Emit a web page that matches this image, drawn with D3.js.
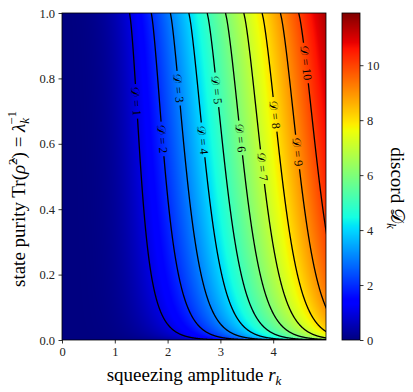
<!DOCTYPE html>
<html>
<head>
<meta charset="utf-8">
<script src="https://cdn.jsdelivr.net/npm/d3@7"></script>
<style>
body { margin: 0; background: #fff; }
svg text { font-family: "Liberation Serif", "DejaVu Serif", serif; }
</style>
</head>
<body>
<div id="chart"></div>
<script>
// axes ranges and ticks
const rDomain = [0, 5];
const purityDomain = [0, 1];
const xTicks = [0, 1, 2, 3, 4];
const yTicks = [0, 0.2, 0.4, 0.6, 0.8, 1.0];
const cbarTicks = [0, 2, 4, 6, 8, 10];
const cbarMax = 11.9;

// contour levels and the purity at which each inline label sits
const levels = [1, 2, 3, 4, 5, 6, 7, 8, 9, 10];
const labelPurity = [0.73, 0.615, 0.77, 0.612, 0.765, 0.618, 0.53, 0.69, 0.575, 0.847];

// discord of the decohered two-mode squeezed state
const squeezeScale = 5.2;

function fEnt(x) {
  if (x <= 1 + 1e-12) return 0;
  const a = (x + 1) / 2, b = (x - 1) / 2;
  return a * Math.log2(a) - b * Math.log2(b);
}
function discord(r, p) {
  p = Math.max(p, 1e-7);
  const nu = 1 / Math.sqrt(p);
  const s = Math.sinh(2 * r) / squeezeScale;
  const a = nu * Math.sqrt(1 + s * s);
  return fEnt(a) - 2 * fEnt(nu) + fEnt((a + nu * nu) / (a + 1));
}

const W = 413, H = 392;
const plot = { left: 62, right: 326, top: 13, bottom: 340 };
const cbar = { left: 342, right: 360 };

const x = d3.scaleLinear().domain(rDomain).range([plot.left, plot.right]);
const y = d3.scaleLinear().domain(purityDomain).range([plot.bottom, plot.top]);
const yc = d3.scaleLinear().domain([0, cbarMax]).range([plot.bottom, plot.top]);

// jet colormap
const jetR = d3.scaleLinear().domain([0, 0.35, 0.66, 0.89, 1]).range([0, 0, 1, 1, 0.5]).clamp(true);
const jetG = d3.scaleLinear().domain([0, 0.125, 0.375, 0.64, 0.91, 1]).range([0, 0, 1, 1, 0, 0]).clamp(true);
const jetB = d3.scaleLinear().domain([0, 0.11, 0.34, 0.65, 1]).range([0.5, 1, 1, 0, 0]).clamp(true);
const norm = d3.scaleLinear().domain([0, cbarMax]).range([0, 1]).clamp(true);
function jet(v) {
  const t = norm(v);
  return [jetR(t) * 255, jetG(t) * 255, jetB(t) * 255];
}

const svg = d3.select("#chart").append("svg")
  .attr("width", W)
  .attr("height", H);

// heatmap
const cw = plot.right - plot.left, ch = plot.bottom - plot.top;
const canvas = document.createElement("canvas");
canvas.width = cw; canvas.height = ch;
const ctx = canvas.getContext("2d");
const img = ctx.createImageData(cw, ch);
for (let j = 0; j < ch; j++) {
  const p = y.invert(plot.top + j + 0.5);
  for (let i = 0; i < cw; i++) {
    const r = x.invert(plot.left + i + 0.5);
    const c = jet(discord(r, p));
    const k = 4 * (j * cw + i);
    img.data[k] = c[0]; img.data[k + 1] = c[1]; img.data[k + 2] = c[2]; img.data[k + 3] = 255;
  }
}
ctx.putImageData(img, 0, 0);
svg.append("image")
  .attr("x", plot.left).attr("y", plot.top)
  .attr("width", cw).attr("height", ch)
  .attr("preserveAspectRatio", "none")
  .attr("href", canvas.toDataURL());

// contour lines
function solveR(level, p) {
  let lo = 0, hi = 12;
  if (discord(hi, p) < level) return null;
  for (let n = 0; n < 60; n++) {
    const mid = (lo + hi) / 2;
    if (discord(mid, p) < level) lo = mid; else hi = mid;
  }
  return (lo + hi) / 2;
}
const pSamples = d3.range(0, 901).map(i => Math.pow(10, -7 + 7 * i / 900));

svg.append("defs").append("clipPath").attr("id", "plotclip")
  .append("rect")
  .attr("x", plot.left).attr("y", plot.top)
  .attr("width", cw).attr("height", ch);

const mask = svg.select("defs").append("mask").attr("id", "lblmask")
  .attr("maskUnits", "userSpaceOnUse")
  .attr("x", 0).attr("y", 0).attr("width", W).attr("height", H);
mask.append("rect").attr("width", W).attr("height", H).attr("fill", "#fff");

const line = d3.line().x(d => x(d[0])).y(d => y(d[1]));
const contourG = svg.append("g").attr("clip-path", "url(#plotclip)");
const linesG = contourG.append("g").attr("mask", "url(#lblmask)");
const labelsG = svg.append("g");

levels.forEach((L, idx) => {
  const pts = [];
  pSamples.forEach(p => {
    const r = solveR(L, p);
    if (r !== null) pts.push([r, p]);
  });
  linesG.append("path")
    .attr("d", line(pts))
    .attr("fill", "none")
    .attr("stroke", "#000")
    .attr("stroke-width", 1.3);

  const pl = labelPurity[idx];
  const r0 = solveR(L, pl);
  const ra = solveR(L, pl + 0.01), rb = solveR(L, pl - 0.01);
  const ang = Math.atan2(y(pl - 0.01) - y(pl + 0.01), x(rb) - x(ra)) * 180 / Math.PI;
  const lx = x(r0), ly = y(pl);
  const t = labelsG.append("text")
    .attr("transform", `translate(${lx},${ly}) rotate(${ang})`)
    .attr("text-anchor", "middle")
    .attr("dy", "0.35em")
    .attr("font-size", 12);
  t.append("tspan").text("𝒟 = " + L);
  const len = t.node().getComputedTextLength();
  mask.append("rect")
    .attr("transform", `translate(${lx},${ly}) rotate(${ang})`)
    .attr("x", -len / 2 - 3).attr("y", -5)
    .attr("width", len + 6).attr("height", 10)
    .attr("fill", "#000");
});

// frame and axes
svg.append("rect")
  .attr("x", plot.left).attr("y", plot.top)
  .attr("width", cw).attr("height", ch)
  .attr("fill", "none").attr("stroke", "#000").attr("stroke-width", 0.8);

const xAxis = svg.append("g")
  .attr("transform", `translate(0,${plot.bottom})`)
  .call(d3.axisBottom(x).tickValues(xTicks).tickFormat(d3.format("d")).tickSize(3.5).tickPadding(3.5));
const yAxis = svg.append("g")
  .attr("transform", `translate(${plot.left},0)`)
  .call(d3.axisLeft(y).tickValues(yTicks).tickFormat(d3.format(".1f")).tickSize(3.5).tickPadding(3.5));

// colorbar
const cbCanvas = document.createElement("canvas");
cbCanvas.width = 1; cbCanvas.height = ch;
const cbCtx = cbCanvas.getContext("2d");
const cbImg = cbCtx.createImageData(1, ch);
for (let j = 0; j < ch; j++) {
  const c = jet(yc.invert(plot.top + j + 0.5));
  cbImg.data[4 * j] = c[0]; cbImg.data[4 * j + 1] = c[1]; cbImg.data[4 * j + 2] = c[2]; cbImg.data[4 * j + 3] = 255;
}
cbCtx.putImageData(cbImg, 0, 0);
svg.append("image")
  .attr("x", cbar.left).attr("y", plot.top)
  .attr("width", cbar.right - cbar.left).attr("height", ch)
  .attr("preserveAspectRatio", "none")
  .attr("href", cbCanvas.toDataURL());
svg.append("rect")
  .attr("x", cbar.left).attr("y", plot.top)
  .attr("width", cbar.right - cbar.left).attr("height", ch)
  .attr("fill", "none").attr("stroke", "#000").attr("stroke-width", 0.8);
const cAxis = svg.append("g")
  .attr("transform", `translate(${cbar.right},0)`)
  .call(d3.axisRight(yc).tickValues(cbarTicks).tickFormat(d3.format("d")).tickSize(3.5).tickPadding(3.5));

[xAxis, yAxis, cAxis].forEach(g => {
  g.attr("font-family", null);
  g.select(".domain").remove();
  g.selectAll(".tick line").attr("stroke-width", 0.8);
  g.selectAll(".tick text")
    .style("font-family", "'Liberation Serif', 'DejaVu Serif', serif")
    .style("font-size", "12.5px")
    .attr("fill", "#222");
});

// axis titles
const xl = svg.append("text")
  .attr("x", (plot.left + plot.right) / 2).attr("y", 381)
  .attr("text-anchor", "middle").attr("font-size", 19);
xl.append("tspan").text("squeezing amplitude ");
xl.append("tspan").attr("font-style", "italic").text("r");
xl.append("tspan").attr("font-style", "italic").attr("font-size", 13).attr("dy", 4).text("k");

const yl = svg.append("text")
  .attr("transform", "translate(25,199) rotate(-90)")
  .attr("text-anchor", "middle").attr("font-size", 19);
yl.append("tspan").text("state purity Tr(");
yl.append("tspan").attr("font-style", "italic").text("ρ̂");
yl.append("tspan").attr("font-size", 13).attr("dy", -8).text("2");
yl.append("tspan").attr("dy", 8).text(") = ");
yl.append("tspan").attr("font-style", "italic").text("λ");
yl.append("tspan").attr("font-style", "italic").attr("font-size", 13).attr("dy", 4).text("k");
yl.append("tspan").attr("font-size", 13).attr("dx", -7).attr("dy", -13).text("−1");

const cl = svg.append("text")
  .attr("transform", "translate(391,188) rotate(90)")
  .attr("text-anchor", "middle").attr("font-size", 19);
cl.append("tspan").text("discord ");
cl.append("tspan").text("𝒟");
cl.append("tspan").attr("font-style", "italic").attr("font-size", 13).attr("dy", 4).text("k");
</script>
</body>
</html>
